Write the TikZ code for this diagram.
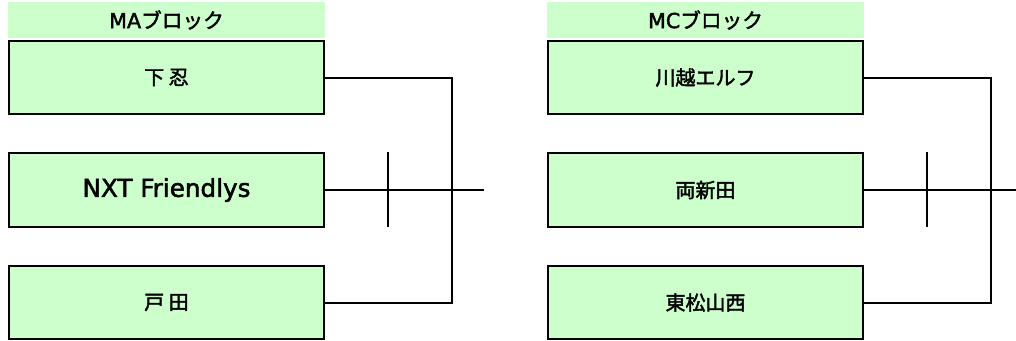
\documentclass[tikz,border=0pt]{standalone}
\usepackage{fontspec}
\setmainfont{DejaVu Sans}[FakeBold=2]
\newfontfamily\jp{Noto Sans CJK JP}[FakeBold=2]
\definecolor{lightgreen}{HTML}{CCFFCC}
\begin{document}
\begin{tikzpicture}
        [x=0.75pt, y=-0.75pt, line width=1.5pt,
         block/.style={fill=lightgreen, minimum width=317*0.75pt, minimum height=36*0.75pt, inner sep=0pt, font=\fontsize{15.5pt}{18pt}\selectfont},
         team/.style={draw=black, fill=lightgreen, minimum width=315.5*0.75pt, minimum height=73.5*0.75pt, inner sep=0pt, font=\fontsize{18.5pt}{20pt}\selectfont}]

        \useasboundingbox (0, 0) rectangle (1016, 340);

        % block headers
        \node[block] (ma-head) at (166.5, 20) {MA{\jp\fontsize{15.5pt}{18pt}\selectfont ブロック}};
        \node[block] (mc-head) at (705.5, 20) {MC{\jp\fontsize{15.5pt}{18pt}\selectfont ブロック}};

        % teams
        \foreach \t[count=\y] in {{\jp\fontsize{15pt}{18pt}\selectfont 下 忍}, NXT Friendlys, {\jp\fontsize{15pt}{18pt}\selectfont 戸 田}}
        \node[team] (ma-\y) at (166.5, -35+112.5*\y) {\t};

        \foreach \t[count=\y] in {川越エルフ, 両新田, 東松山西}
        \node[team, font=\jp\fontsize{15pt}{18pt}\selectfont] (mc-\y) at (705.5, -35+112.5*\y) {\t};

        % bracket lines
        \coordinate (ma-join) at (452, 190);
        \coordinate (ma-out) at (484, 190);
        \coordinate (ma-tick-top) at (388, 152);
        \coordinate (ma-tick-bot) at (388, 227);
        \draw (ma-1.east) -| (ma-join) |- (ma-3.east);
        \draw (ma-2.east) -- (ma-out);
        \draw (ma-tick-top) -- (ma-tick-bot);

        \coordinate (mc-join) at (991, 190);
        \coordinate (mc-out) at (1016, 190);
        \coordinate (mc-tick-top) at (927, 152);
        \coordinate (mc-tick-bot) at (927, 227);
        \draw (mc-1.east) -| (mc-join) |- (mc-3.east);
        \draw (mc-2.east) -- (mc-out);
        \draw (mc-tick-top) -- (mc-tick-bot);
    \end{tikzpicture}
\end{document}
